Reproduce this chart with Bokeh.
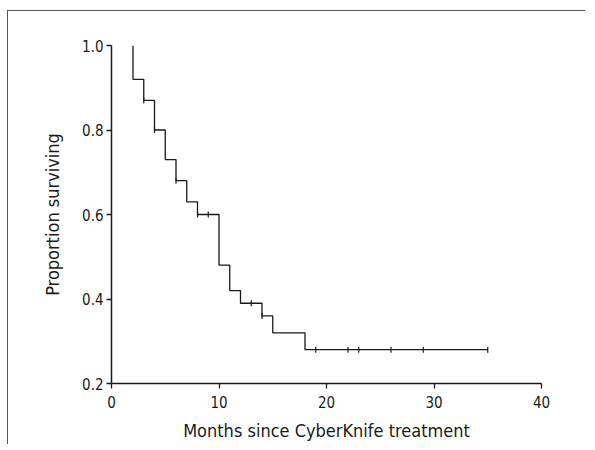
import numpy as np
from bokeh.plotting import figure
from bokeh.models import FixedTicker, Range1d
from bokeh.embed import file_html
from bokeh.resources import INLINE

# Kaplan-Meier data
start_time = 2
start_surv = 1.0
event_times = [3, 4, 5, 6, 7, 8, 10, 11, 12, 14, 15, 18]
event_surv = [0.87, 0.80, 0.73, 0.68, 0.63, 0.60, 0.48, 0.42, 0.39, 0.36, 0.32, 0.28]
first_drop = 0.92
end_time = 35
censor_times = [3, 4, 6, 8, 9, 13, 14, 19, 22, 23, 26, 29, 35]
x_ticks = [0, 10, 20, 30, 40]
y_ticks = [0.2, 0.4, 0.6, 0.8, 1.0]

# step path
xs = [start_time, start_time] + event_times + [end_time]
ys = [start_surv, first_drop] + event_surv + [event_surv[-1]]

def surv_at(t):
    s = first_drop
    for et, ev in zip(event_times, event_surv):
        if et <= t:
            s = ev
    return s

cens_y = [surv_at(t) for t in censor_times]

FONT = "DejaVu Sans Condensed"
INK = "#1a1a1a"

p = figure(width=578, height=434, output_backend="svg", toolbar_location=None,
           x_range=Range1d(0, 40), y_range=Range1d(0.2, 1.0),
           min_border_left=103, min_border_right=45, min_border_top=34, min_border_bottom=62)
p.styles = {"border-top": "1px solid #555", "border-left": "1px solid #555",
            "margin-left": "7px", "margin-top": "10px"}
p.outline_line_color = None
p.xgrid.visible = False
p.ygrid.visible = False
p.background_fill_color = "white"
p.border_fill_color = "white"

p.step(xs, ys, mode="after", line_color=INK, line_width=1.3)
p.scatter(censor_times, cens_y, marker="dash", angle=np.pi / 2, size=6,
          line_color=INK, line_width=1.2)

for ax in (p.xaxis[0], p.yaxis[0]):
    ax.axis_line_color = INK
    ax.axis_line_width = 1.5
    ax.major_tick_line_color = INK
    ax.major_tick_line_width = 1.3
    ax.major_tick_out = 5
    ax.major_tick_in = 0
    ax.minor_tick_line_color = None
    ax.major_label_text_font = FONT
    ax.major_label_text_font_size = "15px"
    ax.major_label_text_color = INK
    ax.axis_label_text_font = FONT
    ax.axis_label_text_font_style = "normal"
    ax.axis_label_text_color = INK
    ax.axis_label_text_font_size = "18px"

p.xaxis.ticker = FixedTicker(ticks=x_ticks)
p.yaxis.ticker = FixedTicker(ticks=y_ticks)
p.yaxis.major_label_overrides = {t: f"{t:.1f}" for t in y_ticks}
p.xaxis.major_label_standoff = 7
p.yaxis.major_label_standoff = 3
p.xaxis.axis_label = "Months since CyberKnife treatment"
p.yaxis.axis_label = "Proportion surviving"
p.xaxis.axis_label_standoff = 9
p.yaxis.axis_label_standoff = 16

open("out.html", "w").write(file_html(p, INLINE))
